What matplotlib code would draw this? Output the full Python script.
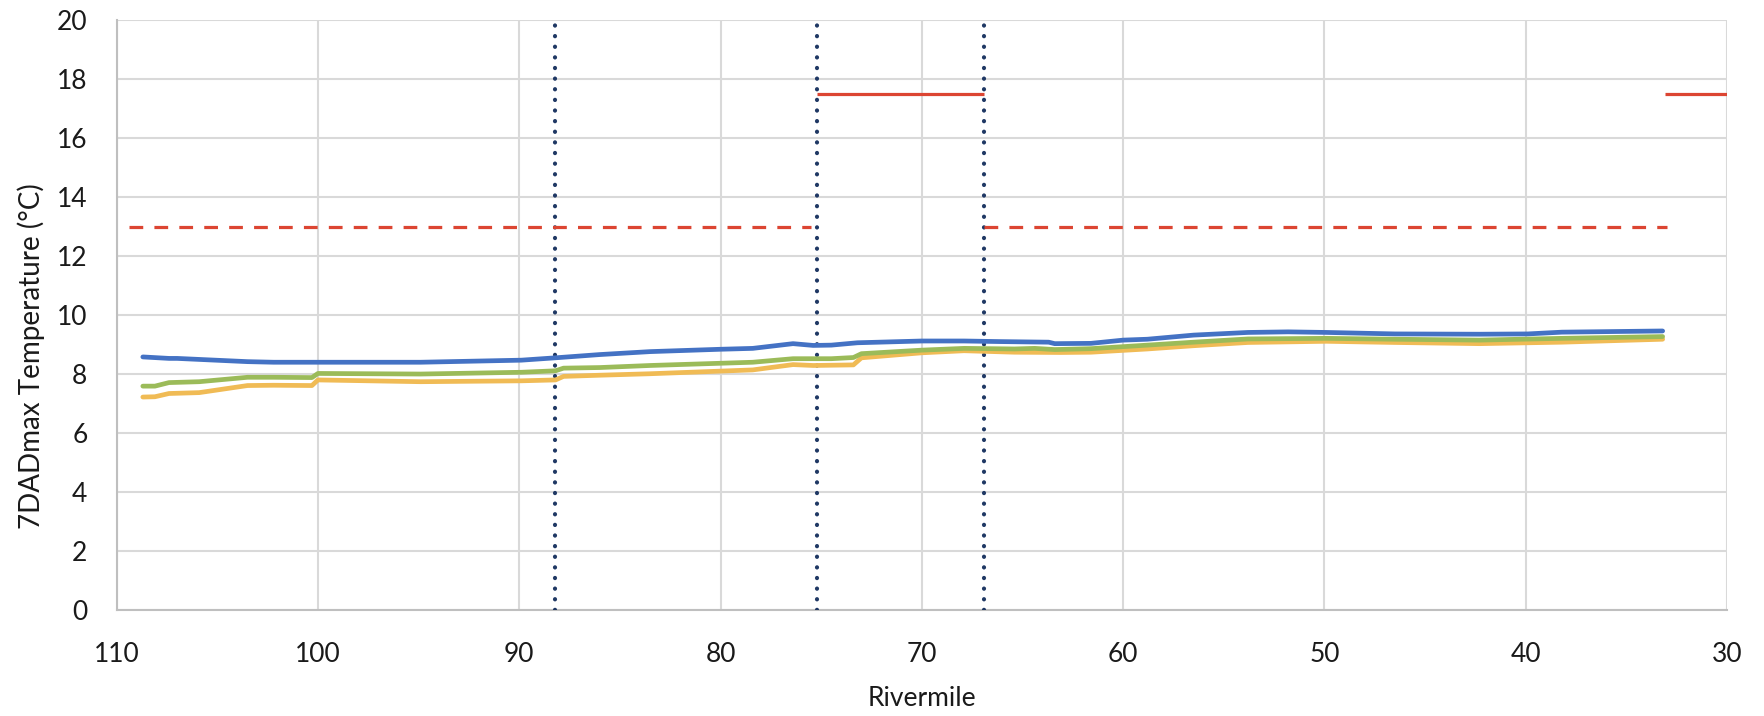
import numpy as np
import matplotlib
matplotlib.use('Agg')
import matplotlib.pyplot as plt

# Данные (rivermile, 7DADmax)
rm_blue = [108.7, 107.4, 107.0, 103.5, 102.2, 100.0, 94.9, 89.9, 88.2, 86.0,
           83.5, 80.0, 78.4, 76.4, 75.4, 74.5, 73.2, 70.0, 67.9, 66.1, 63.7,
           63.4, 61.6, 60.0, 58.8, 56.5, 53.8, 51.8, 49.9, 46.5, 42.3, 39.9,
           38.2, 33.2]
t_blue = [8.58, 8.53, 8.53, 8.42, 8.40, 8.40, 8.40, 8.47, 8.55, 8.66,
          8.76, 8.84, 8.87, 9.03, 8.97, 8.98, 9.06, 9.12, 9.12, 9.10, 9.08,
          9.03, 9.04, 9.15, 9.18, 9.32, 9.41, 9.43, 9.41, 9.36, 9.35, 9.36,
          9.42, 9.46]

rm_green = [108.7, 108.1, 107.4, 105.9, 103.5, 102.2, 100.3, 100.0, 94.9,
            89.9, 88.2, 87.8, 86.0, 83.5, 78.4, 76.4, 74.5, 73.4, 73.0, 70.0,
            67.9, 65.4, 64.4, 63.4, 61.6, 58.8, 56.5, 53.8, 49.9, 46.5, 42.3,
            38.2, 33.2]
t_green = [7.59, 7.59, 7.71, 7.74, 7.89, 7.89, 7.88, 8.02, 8.00,
           8.06, 8.11, 8.20, 8.22, 8.29, 8.40, 8.52, 8.52, 8.56, 8.69, 8.81,
           8.87, 8.85, 8.87, 8.83, 8.86, 8.98, 9.08, 9.19, 9.21, 9.18, 9.15,
           9.21, 9.27]

rm_orange = [108.7, 108.1, 107.4, 105.9, 103.5, 102.2, 100.3, 100.0, 94.9,
             89.9, 88.2, 87.8, 86.0, 83.5, 78.4, 76.4, 75.4, 73.4, 73.0, 70.0,
             67.9, 65.4, 63.1, 61.6, 58.8, 56.5, 53.8, 49.9, 46.5, 42.3, 38.2,
             33.2]
t_orange = [7.22, 7.23, 7.34, 7.37, 7.61, 7.62, 7.61, 7.80, 7.74,
            7.77, 7.80, 7.92, 7.96, 8.01, 8.14, 8.32, 8.29, 8.31, 8.55, 8.72,
            8.79, 8.74, 8.73, 8.74, 8.85, 8.96, 9.07, 9.11, 9.07, 9.03, 9.08,
            9.18]

# Границы участков (вертикальные пунктиры)
reach_bounds = [88.2, 75.2, 66.9]

# Критерии: пунктир 13 °C, сплошная 17.5 °C
crit_dashed = [(109.4, 75.5, 13.0), (66.9, 33.0, 13.0)]
crit_solid = [(75.2, 66.9, 17.5), (33.1, 30.0, 17.5)]

x_ticks = [110, 100, 90, 80, 70, 60, 50, 40, 30]
y_ticks = [0, 2, 4, 6, 8, 10, 12, 14, 16, 18, 20]

plt.rcParams['font.family'] = ['Lato', 'DejaVu Sans']

fig = plt.figure(figsize=(17.65, 7.16), dpi=100)
ax = fig.add_axes([0.0661, 0.148, 0.9124, 0.824])

grid_col = '#d9d9d9'
red = '#dc4532'

for x in reach_bounds:
    ax.plot([x, x], [0, 20], color='#1f3864', lw=3.0,
            linestyle=(0, (0.05, 2.5)), dash_capstyle='round', zorder=3)

for x0, x1, y in crit_dashed:
    ax.plot([x0, x1], [y, y], color=red, lw=2.3, linestyle=(0, (4.3, 3.5)),
            zorder=3)
for x0, x1, y in crit_solid:
    ax.plot([x0, x1], [y, y], color=red, lw=2.3, solid_capstyle='butt',
            zorder=3)

ax.plot(rm_orange, t_orange, color='#f0bb55', lw=3.4, zorder=4,
        solid_capstyle='round')
ax.plot(rm_green, t_green, color='#9bbb59', lw=3.4, zorder=5,
        solid_capstyle='round')
ax.plot(rm_blue, t_blue, color='#4472c4', lw=3.4, zorder=6,
        solid_capstyle='round')

ax.set_xlim(110, 30)
ax.set_ylim(0, 20)
ax.set_xticks(x_ticks)
ax.set_yticks(y_ticks)
ax.grid(True, color=grid_col, lw=1.5, zorder=0)
ax.set_axisbelow(True)
ax.tick_params(length=0, labelsize=19, colors='#1a1a1a')
ax.tick_params(axis='x', pad=23)
ax.tick_params(axis='y', pad=21)

for side in ['top', 'right']:
    ax.spines[side].set_visible(False)
for side in ['left', 'bottom']:
    ax.spines[side].set_color('#bfbfbf')
    ax.spines[side].set_linewidth(1.5)

ax.set_xlabel('Rivermile', fontsize=19, color='#1a1a1a', labelpad=14)
ax.set_ylabel('7DADmax Temperature (°C)', fontsize=20, color='#1a1a1a')
# подпись оси Y у Excel смещена вниз
ax.yaxis.set_label_coords(-0.0445, 0.43)

fig.savefig('out.png', dpi=100)
